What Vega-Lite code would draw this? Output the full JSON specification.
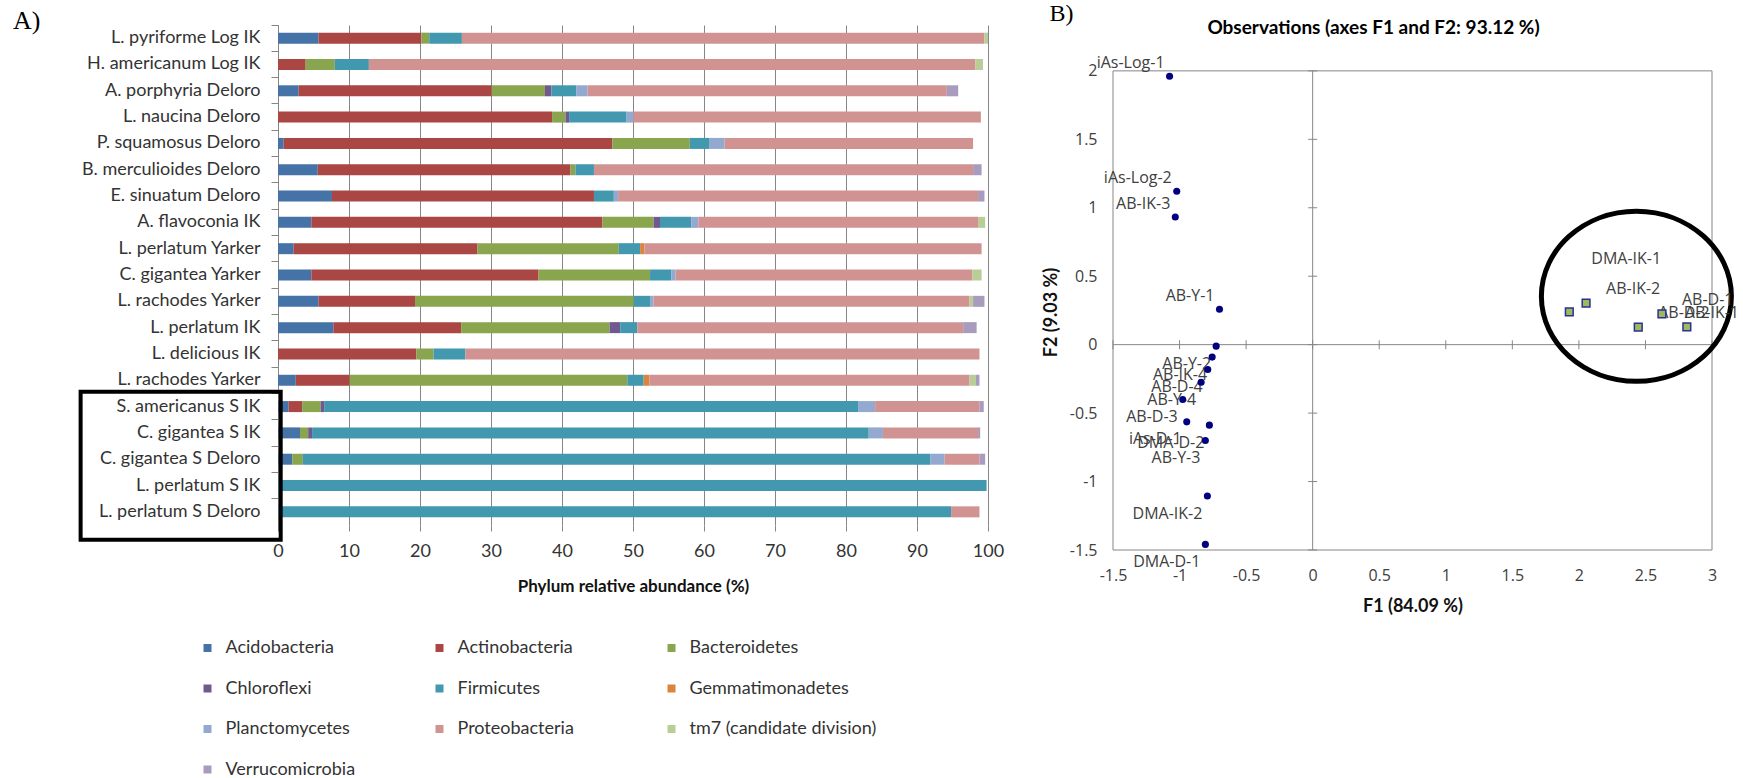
{
  "$schema": "https://vega.github.io/schema/vega-lite/v6.json",
  "padding": {"left": 13, "top": 2, "right": 0, "bottom": 0},
  "bounds": "flush",
  "spacing": 125,
  "title": {"text": "B)", "anchor": "start", "frame": "group", "font": "Liberation Serif", "fontSize": 24, "fontWeight": "normal", "color": "black", "offset": 0, "baseline": "middle", "dx": 771.5, "dy": 30},
  "config": {
    "font": "Lato",
    "view": {"stroke": null},
    "axis": {"labelOverlap": false}
  },
  "datasets": {
    "ab": [
      {"s": "L. pyriforme Log IK", "p": "Acidobacteria", "k": 1, "v": 5.7},
      {"s": "L. pyriforme Log IK", "p": "Actinobacteria", "k": 2, "v": 14.5},
      {"s": "L. pyriforme Log IK", "p": "Bacteroidetes", "k": 3, "v": 1.1},
      {"s": "L. pyriforme Log IK", "p": "Firmicutes", "k": 5, "v": 4.6},
      {"s": "L. pyriforme Log IK", "p": "Proteobacteria", "k": 8, "v": 73.6},
      {"s": "L. pyriforme Log IK", "p": "tm7 (candidate division)", "k": 9, "v": 0.5},
      {"s": "H. americanum Log IK", "p": "Actinobacteria", "k": 2, "v": 3.9},
      {"s": "H. americanum Log IK", "p": "Bacteroidetes", "k": 3, "v": 4.1},
      {"s": "H. americanum Log IK", "p": "Firmicutes", "k": 5, "v": 4.8},
      {"s": "H. americanum Log IK", "p": "Proteobacteria", "k": 8, "v": 85.4},
      {"s": "H. americanum Log IK", "p": "tm7 (candidate division)", "k": 9, "v": 1.1},
      {"s": "A. porphyria Deloro", "p": "Acidobacteria", "k": 1, "v": 2.9},
      {"s": "A. porphyria Deloro", "p": "Actinobacteria", "k": 2, "v": 27.2},
      {"s": "A. porphyria Deloro", "p": "Bacteroidetes", "k": 3, "v": 7.5},
      {"s": "A. porphyria Deloro", "p": "Chloroflexi", "k": 4, "v": 0.9},
      {"s": "A. porphyria Deloro", "p": "Firmicutes", "k": 5, "v": 3.5},
      {"s": "A. porphyria Deloro", "p": "Planctomycetes", "k": 7, "v": 1.6},
      {"s": "A. porphyria Deloro", "p": "Proteobacteria", "k": 8, "v": 50.6},
      {"s": "A. porphyria Deloro", "p": "Verrucomicrobia", "k": 10, "v": 1.6},
      {"s": "L. naucina Deloro", "p": "Actinobacteria", "k": 2, "v": 38.6},
      {"s": "L. naucina Deloro", "p": "Bacteroidetes", "k": 3, "v": 1.9},
      {"s": "L. naucina Deloro", "p": "Chloroflexi", "k": 4, "v": 0.5},
      {"s": "L. naucina Deloro", "p": "Firmicutes", "k": 5, "v": 8.1},
      {"s": "L. naucina Deloro", "p": "Planctomycetes", "k": 7, "v": 1.0},
      {"s": "L. naucina Deloro", "p": "Proteobacteria", "k": 8, "v": 48.9},
      {"s": "P. squamosus Deloro", "p": "Acidobacteria", "k": 1, "v": 0.8},
      {"s": "P. squamosus Deloro", "p": "Actinobacteria", "k": 2, "v": 46.3},
      {"s": "P. squamosus Deloro", "p": "Bacteroidetes", "k": 3, "v": 10.9},
      {"s": "P. squamosus Deloro", "p": "Firmicutes", "k": 5, "v": 2.8},
      {"s": "P. squamosus Deloro", "p": "Planctomycetes", "k": 7, "v": 2.1},
      {"s": "P. squamosus Deloro", "p": "Proteobacteria", "k": 8, "v": 35.0},
      {"s": "B. merculioides Deloro", "p": "Acidobacteria", "k": 1, "v": 5.6},
      {"s": "B. merculioides Deloro", "p": "Actinobacteria", "k": 2, "v": 35.6},
      {"s": "B. merculioides Deloro", "p": "Bacteroidetes", "k": 3, "v": 0.7},
      {"s": "B. merculioides Deloro", "p": "Firmicutes", "k": 5, "v": 2.6},
      {"s": "B. merculioides Deloro", "p": "Proteobacteria", "k": 8, "v": 53.4},
      {"s": "B. merculioides Deloro", "p": "Verrucomicrobia", "k": 10, "v": 1.2},
      {"s": "E. sinuatum Deloro", "p": "Acidobacteria", "k": 1, "v": 7.6},
      {"s": "E. sinuatum Deloro", "p": "Actinobacteria", "k": 2, "v": 36.9},
      {"s": "E. sinuatum Deloro", "p": "Firmicutes", "k": 5, "v": 2.8},
      {"s": "E. sinuatum Deloro", "p": "Planctomycetes", "k": 7, "v": 0.6},
      {"s": "E. sinuatum Deloro", "p": "Proteobacteria", "k": 8, "v": 50.7},
      {"s": "E. sinuatum Deloro", "p": "Verrucomicrobia", "k": 10, "v": 0.9},
      {"s": "A. flavoconia IK", "p": "Acidobacteria", "k": 1, "v": 4.7},
      {"s": "A. flavoconia IK", "p": "Actinobacteria", "k": 2, "v": 41.0},
      {"s": "A. flavoconia IK", "p": "Bacteroidetes", "k": 3, "v": 7.2},
      {"s": "A. flavoconia IK", "p": "Chloroflexi", "k": 4, "v": 0.9},
      {"s": "A. flavoconia IK", "p": "Firmicutes", "k": 5, "v": 4.4},
      {"s": "A. flavoconia IK", "p": "Planctomycetes", "k": 7, "v": 1.0},
      {"s": "A. flavoconia IK", "p": "Proteobacteria", "k": 8, "v": 39.4},
      {"s": "A. flavoconia IK", "p": "tm7 (candidate division)", "k": 9, "v": 1.0},
      {"s": "L. perlatum Yarker", "p": "Acidobacteria", "k": 1, "v": 2.2},
      {"s": "L. perlatum Yarker", "p": "Actinobacteria", "k": 2, "v": 25.9},
      {"s": "L. perlatum Yarker", "p": "Bacteroidetes", "k": 3, "v": 19.9},
      {"s": "L. perlatum Yarker", "p": "Firmicutes", "k": 5, "v": 3.0},
      {"s": "L. perlatum Yarker", "p": "Gemmatimonadetes", "k": 6, "v": 0.6},
      {"s": "L. perlatum Yarker", "p": "Proteobacteria", "k": 8, "v": 47.5},
      {"s": "C. gigantea Yarker", "p": "Acidobacteria", "k": 1, "v": 4.7},
      {"s": "C. gigantea Yarker", "p": "Actinobacteria", "k": 2, "v": 32.0},
      {"s": "C. gigantea Yarker", "p": "Bacteroidetes", "k": 3, "v": 15.7},
      {"s": "C. gigantea Yarker", "p": "Firmicutes", "k": 5, "v": 3.0},
      {"s": "C. gigantea Yarker", "p": "Planctomycetes", "k": 7, "v": 0.6},
      {"s": "C. gigantea Yarker", "p": "Proteobacteria", "k": 8, "v": 41.8},
      {"s": "C. gigantea Yarker", "p": "tm7 (candidate division)", "k": 9, "v": 1.3},
      {"s": "L. rachodes Yarker", "p": "Acidobacteria", "k": 1, "v": 5.7},
      {"s": "L. rachodes Yarker", "p": "Actinobacteria", "k": 2, "v": 13.6},
      {"s": "L. rachodes Yarker", "p": "Bacteroidetes", "k": 3, "v": 30.8},
      {"s": "L. rachodes Yarker", "p": "Firmicutes", "k": 5, "v": 2.3},
      {"s": "L. rachodes Yarker", "p": "Planctomycetes", "k": 7, "v": 0.5},
      {"s": "L. rachodes Yarker", "p": "Proteobacteria", "k": 8, "v": 44.5},
      {"s": "L. rachodes Yarker", "p": "tm7 (candidate division)", "k": 9, "v": 0.5},
      {"s": "L. rachodes Yarker", "p": "Verrucomicrobia", "k": 10, "v": 1.6},
      {"s": "L. perlatum IK", "p": "Acidobacteria", "k": 1, "v": 7.8},
      {"s": "L. perlatum IK", "p": "Actinobacteria", "k": 2, "v": 18.0},
      {"s": "L. perlatum IK", "p": "Bacteroidetes", "k": 3, "v": 20.9},
      {"s": "L. perlatum IK", "p": "Chloroflexi", "k": 4, "v": 1.5},
      {"s": "L. perlatum IK", "p": "Firmicutes", "k": 5, "v": 2.4},
      {"s": "L. perlatum IK", "p": "Proteobacteria", "k": 8, "v": 45.9},
      {"s": "L. perlatum IK", "p": "Verrucomicrobia", "k": 10, "v": 1.9},
      {"s": "L. delicious IK", "p": "Actinobacteria", "k": 2, "v": 19.5},
      {"s": "L. delicious IK", "p": "Bacteroidetes", "k": 3, "v": 2.4},
      {"s": "L. delicious IK", "p": "Firmicutes", "k": 5, "v": 4.5},
      {"s": "L. delicious IK", "p": "Proteobacteria", "k": 8, "v": 72.4},
      {"s": "L. rachodes Yarker#2", "p": "Acidobacteria", "k": 1, "v": 2.5},
      {"s": "L. rachodes Yarker#2", "p": "Actinobacteria", "k": 2, "v": 7.6},
      {"s": "L. rachodes Yarker#2", "p": "Bacteroidetes", "k": 3, "v": 39.1},
      {"s": "L. rachodes Yarker#2", "p": "Firmicutes", "k": 5, "v": 2.3},
      {"s": "L. rachodes Yarker#2", "p": "Gemmatimonadetes", "k": 6, "v": 0.8},
      {"s": "L. rachodes Yarker#2", "p": "Proteobacteria", "k": 8, "v": 45.1},
      {"s": "L. rachodes Yarker#2", "p": "tm7 (candidate division)", "k": 9, "v": 0.9},
      {"s": "L. rachodes Yarker#2", "p": "Verrucomicrobia", "k": 10, "v": 0.5},
      {"s": "S. americanus S IK", "p": "Acidobacteria", "k": 1, "v": 1.5},
      {"s": "S. americanus S IK", "p": "Actinobacteria", "k": 2, "v": 1.9},
      {"s": "S. americanus S IK", "p": "Bacteroidetes", "k": 3, "v": 2.6},
      {"s": "S. americanus S IK", "p": "Chloroflexi", "k": 4, "v": 0.5},
      {"s": "S. americanus S IK", "p": "Firmicutes", "k": 5, "v": 75.2},
      {"s": "S. americanus S IK", "p": "Planctomycetes", "k": 7, "v": 2.4},
      {"s": "S. americanus S IK", "p": "Proteobacteria", "k": 8, "v": 14.7},
      {"s": "S. americanus S IK", "p": "Verrucomicrobia", "k": 10, "v": 0.6},
      {"s": "C. gigantea S IK", "p": "Acidobacteria", "k": 1, "v": 3.1},
      {"s": "C. gigantea S IK", "p": "Bacteroidetes", "k": 3, "v": 1.15},
      {"s": "C. gigantea S IK", "p": "Chloroflexi", "k": 4, "v": 0.55},
      {"s": "C. gigantea S IK", "p": "Firmicutes", "k": 5, "v": 78.4},
      {"s": "C. gigantea S IK", "p": "Planctomycetes", "k": 7, "v": 2.0},
      {"s": "C. gigantea S IK", "p": "Proteobacteria", "k": 8, "v": 13.4},
      {"s": "C. gigantea S IK", "p": "Verrucomicrobia", "k": 10, "v": 0.3},
      {"s": "C. gigantea S Deloro", "p": "Acidobacteria", "k": 1, "v": 2.0},
      {"s": "C. gigantea S Deloro", "p": "Bacteroidetes", "k": 3, "v": 1.5},
      {"s": "C. gigantea S Deloro", "p": "Firmicutes", "k": 5, "v": 88.4},
      {"s": "C. gigantea S Deloro", "p": "Planctomycetes", "k": 7, "v": 2.0},
      {"s": "C. gigantea S Deloro", "p": "Proteobacteria", "k": 8, "v": 4.9},
      {"s": "C. gigantea S Deloro", "p": "Verrucomicrobia", "k": 10, "v": 0.8},
      {"s": "L. perlatum S IK", "p": "Firmicutes", "k": 5, "v": 99.8},
      {"s": "L. perlatum S Deloro", "p": "Firmicutes", "k": 5, "v": 94.8},
      {"s": "L. perlatum S Deloro", "p": "Proteobacteria", "k": 8, "v": 4.0}
    ],
    "box": [{"x": -27.8, "x2": 0.38, "y": 13.94, "y2": 19.56}],
    "obs": [
      {"id": "iAs-Log-1", "x": -1.075, "y": 1.961, "g": "c", "pos": "NW"},
      {"id": "iAs-Log-2", "x": -1.021, "y": 1.121, "g": "c", "pos": "NW"},
      {"id": "AB-IK-3", "x": -1.032, "y": 0.932, "g": "c", "pos": "NW"},
      {"id": "AB-Y-1", "x": -0.700, "y": 0.259, "g": "c", "pos": "NW"},
      {"id": "AB-Y-2", "x": -0.725, "y": -0.011, "g": "c", "pos": "SW"},
      {"id": "AB-IK-4", "x": -0.755, "y": -0.091, "g": "c", "pos": "SW"},
      {"id": "AB-D-4", "x": -0.788, "y": -0.181, "g": "c", "pos": "SW"},
      {"id": "AB-Y-4", "x": -0.838, "y": -0.274, "g": "c", "pos": "SW"},
      {"id": "AB-D-3", "x": -0.976, "y": -0.400, "g": "c", "pos": "SW"},
      {"id": "iAs-D-1", "x": -0.946, "y": -0.564, "g": "c", "pos": "SW"},
      {"id": "DMA-D-2", "x": -0.776, "y": -0.588, "g": "c", "pos": "SW"},
      {"id": "AB-Y-3", "x": -0.806, "y": -0.700, "g": "c", "pos": "SW"},
      {"id": "DMA-IK-2", "x": -0.791, "y": -1.106, "g": "c", "pos": "SW"},
      {"id": "DMA-D-1", "x": -0.806, "y": -1.459, "g": "c", "pos": "SW"},
      {"id": "DMA-IK-1", "x": 1.928, "y": 0.240, "g": "s", "pos": "NNE"},
      {"id": "AB-IK-2", "x": 2.054, "y": 0.303, "g": "s", "pos": "NE"},
      {"id": "AB-D-2", "x": 2.446, "y": 0.128, "g": "s", "pos": "NE"},
      {"id": "AB-D-1", "x": 2.624, "y": 0.225, "g": "s", "pos": "NE"},
      {"id": "AB-IK-1", "x": 2.811, "y": 0.130, "g": "s", "pos": "N"}
    ],
    "frame": [{"x": -1.5, "x2": 3, "y": -1.5, "y2": 2}],
    "zero": [
      {"x": 0, "x2": 0, "y": -1.5, "y2": 2},
      {"x": -1.5, "x2": 3, "y": 0, "y2": 0}
    ],
    "tickv": [
      {"x": 0, "y": -1.5}, {"x": 0, "y": -1}, {"x": 0, "y": -0.5}, {"x": 0, "y": 0},
      {"x": 0, "y": 0.5}, {"x": 0, "y": 1}, {"x": 0, "y": 1.5}, {"x": 0, "y": 2}
    ],
    "tickh": [
      {"x": -1.5, "y": 0}, {"x": -1, "y": 0}, {"x": -0.5, "y": 0}, {"x": 0, "y": 0},
      {"x": 0.5, "y": 0}, {"x": 1, "y": 0}, {"x": 1.5, "y": 0}, {"x": 2, "y": 0},
      {"x": 2.5, "y": 0}, {"x": 3, "y": 0}
    ],
    "ellipse": [{"x": 2.432, "y": 0.353}]
  },
  "hconcat": [
    {
      "title": {"text": "A)", "anchor": "start", "frame": "group", "font": "Liberation Serif", "fontSize": 26, "fontWeight": "normal", "color": "black", "offset": 0, "baseline": "middle", "dx": -265, "dy": 22.5},
      "width": 710,
      "height": 500,
      "resolve": {"scale": {"y": "independent"}},
      "layer": [
        {
          "data": {"name": "ab"},
          "mark": {"type": "bar", "size": 11},
          "encoding": {
            "x": {
              "field": "v", "type": "quantitative", "stack": "zero",
              "scale": {"domain": [0, 100], "nice": false},
              "axis": {
                "title": "Phylum relative abundance (%)", "titleFont": "Lato", "titleFontSize": 17, "titleFontWeight": "bold", "titleColor": "#111111", "titlePadding": 18,
                "values": [0, 10, 20, 30, 40, 50, 60, 70, 80, 90, 100],
                "grid": true, "gridColor": "#868686", "gridOpacity": 1, "gridWidth": 1,
                "domain": false, "ticks": true, "tickColor": "#868686", "tickSize": 6,
                "labelFont": "Lato", "labelFontSize": 18, "labelColor": "#333333", "labelPadding": 11, "labelFlush": false
              }
            },
            "y": {
              "field": "s", "type": "nominal", "sort": null,
              "scale": {"paddingInner": 0, "paddingOuter": 0},
              "axis": {
                "title": null, "labelFont": "Lato", "labelFontSize": 18, "labelColor": "#333333", "labelLimit": 400,
                "domain": true, "domainColor": "#868686", "domainWidth": 1, "ticks": true, "tickColor": "#868686", "tickSize": 7, "labelPadding": 11,
                "bandPosition": 0, "grid": false,
                "labelExpr": "replace(datum.value, '#2', '')"
              }
            },
            "color": {
              "field": "p", "type": "nominal",
              "scale": {
                "domain": ["Acidobacteria", "Actinobacteria", "Bacteroidetes", "Chloroflexi", "Firmicutes", "Gemmatimonadetes", "Planctomycetes", "Proteobacteria", "tm7 (candidate division)", "Verrucomicrobia"],
                "range": ["#4572A7", "#AA4643", "#89A54E", "#71588F", "#4198AF", "#DB843D", "#93A9CF", "#D19392", "#B9CD96", "#A99BBD"]
              },
              "legend": {
                "orient": "none", "legendX": -79.5, "legendY": 614, "direction": "horizontal", "columns": 3,
                "title": null, "symbolType": "square", "symbolSize": 64, "symbolStrokeWidth": 0,
                "labelFont": "Lato", "labelFontSize": 18, "labelColor": "#333333", "labelOffset": 9,
                "rowPadding": 22.5, "columnPadding": 18, "gridAlign": "all", "padding": 0, "labelLimit": 300
              }
            },
            "order": {"field": "k", "type": "quantitative"}
          }
        },
        {
          "data": {"name": "box"},
          "mark": {"type": "rect", "filled": false, "stroke": "black", "strokeWidth": 4},
          "encoding": {
            "x": {"field": "x", "type": "quantitative", "title": "Phylum relative abundance (%)"},
            "x2": {"field": "x2"},
            "y": {"field": "y", "type": "quantitative", "scale": {"domain": [0, 19], "reverse": true, "nice": false, "zero": false}, "axis": null},
            "y2": {"field": "y2"}
          }
        }
      ]
    },
    {
      "title": {"text": "Observations (axes F1 and F2: 93.12 %)", "anchor": "middle", "frame": "group", "font": "Lato", "fontSize": 19, "fontWeight": "bold", "color": "black", "offset": 0, "baseline": "middle", "dx": -39, "dy": 21.5},
      "width": 599,
      "height": 525,
      "encoding": {
        "x": {
          "field": "x", "type": "quantitative",
          "scale": {"domain": [-1.5, 3], "nice": false, "zero": false},
          "axis": {
            "title": "F1 (84.09 %)", "titleFont": "Lato", "titleFontSize": 18, "titleFontWeight": "bold", "titleColor": "#111111", "titlePadding": 14,
            "values": [-1.5, -1, -0.5, 0, 0.5, 1, 1.5, 2, 2.5, 3], "labelExpr": "'' + datum.value",
            "domain": false, "ticks": false, "tickSize": 0, "grid": false,
            "labelFont": "Open Sans", "labelFontSize": 16, "labelColor": "#404040", "labelPadding": 17, "labelFlush": false
          }
        },
        "y": {
          "field": "y", "type": "quantitative",
          "scale": {"domain": [-1.5, 2.335], "nice": false, "zero": false},
          "axis": {
            "title": "F2 (9.03 %)", "titleFont": "Lato", "titleFontSize": 18, "titleFontWeight": "bold", "titleColor": "#111111", "titlePadding": 9, "titleY": 287,
            "values": [-1.5, -1, -0.5, 0, 0.5, 1, 1.5, 2], "labelExpr": "'' + datum.value",
            "domain": false, "ticks": false, "tickSize": 0, "grid": false,
            "labelFont": "Open Sans", "labelFontSize": 16, "labelColor": "#404040", "labelPadding": 16
          }
        }
      },
      "layer": [
        {
          "data": {"name": "frame"},
          "mark": {"type": "rect", "filled": false, "stroke": "#868686", "strokeWidth": 1},
          "encoding": {"x2": {"field": "x2"}, "y2": {"field": "y2"}}
        },
        {
          "data": {"name": "zero"},
          "mark": {"type": "rule", "color": "#868686", "strokeWidth": 1},
          "encoding": {"x2": {"field": "x2"}, "y2": {"field": "y2"}}
        },
        {
          "data": {"name": "tickv"},
          "mark": {"type": "tick", "orient": "horizontal", "color": "#868686", "size": 9, "thickness": 1, "opacity": 1}
        },
        {
          "data": {"name": "tickh"},
          "mark": {"type": "tick", "orient": "vertical", "color": "#868686", "size": 9, "thickness": 1, "opacity": 1}
        },
        {
          "data": {"name": "ellipse"},
          "mark": {"type": "point", "shape": "M1,0C1,0.494,0.552,0.895,0,0.895C-0.552,0.895,-1,0.494,-1,0C-1,-0.494,-0.552,-0.895,0,-0.895C0.552,-0.895,1,-0.494,1,0Z", "size": 36100, "filled": false, "stroke": "black", "strokeWidth": 5, "opacity": 1}
        },
        {
          "data": {"name": "obs"},
          "transform": [{"filter": "datum.pos == 'NW'"}],
          "mark": {"type": "text", "align": "right", "baseline": "middle", "dx": -5, "dy": -13, "font": "Open Sans", "fontSize": 16, "color": "#404040"},
          "encoding": {"text": {"field": "id"}}
        },
        {
          "data": {"name": "obs"},
          "transform": [{"filter": "datum.pos == 'SW'"}],
          "mark": {"type": "text", "align": "right", "baseline": "middle", "dx": -5, "dy": 17.5, "font": "Open Sans", "fontSize": 16, "color": "#404040"},
          "encoding": {"text": {"field": "id"}}
        },
        {
          "data": {"name": "obs"},
          "transform": [{"filter": "datum.pos == 'NE'"}],
          "mark": {"type": "text", "align": "left", "baseline": "middle", "dx": 20, "dy": -14, "font": "Open Sans", "fontSize": 16, "color": "#404040"},
          "encoding": {"text": {"field": "id"}}
        },
        {
          "data": {"name": "obs"},
          "transform": [{"filter": "datum.pos == 'N'"}],
          "mark": {"type": "text", "align": "left", "baseline": "middle", "dx": -2, "dy": -14, "font": "Open Sans", "fontSize": 16, "color": "#404040"},
          "encoding": {"text": {"field": "id"}}
        },
        {
          "data": {"name": "obs"},
          "transform": [{"filter": "datum.pos == 'NNE'"}],
          "mark": {"type": "text", "align": "left", "baseline": "middle", "dx": 22, "dy": -53, "font": "Open Sans", "fontSize": 16, "color": "#404040"},
          "encoding": {"text": {"field": "id"}}
        },
        {
          "data": {"name": "obs"},
          "transform": [{"filter": "datum.g == 'c'"}],
          "mark": {"type": "point", "shape": "circle", "filled": true, "size": 50, "color": "#000080", "opacity": 1}
        },
        {
          "data": {"name": "obs"},
          "transform": [{"filter": "datum.g == 's'"}],
          "mark": {"type": "point", "shape": "square", "filled": true, "fill": "#9BBB59", "stroke": "#2E2E9A", "strokeWidth": 1.5, "size": 60, "opacity": 1}
        }
      ]
    }
  ]
}
